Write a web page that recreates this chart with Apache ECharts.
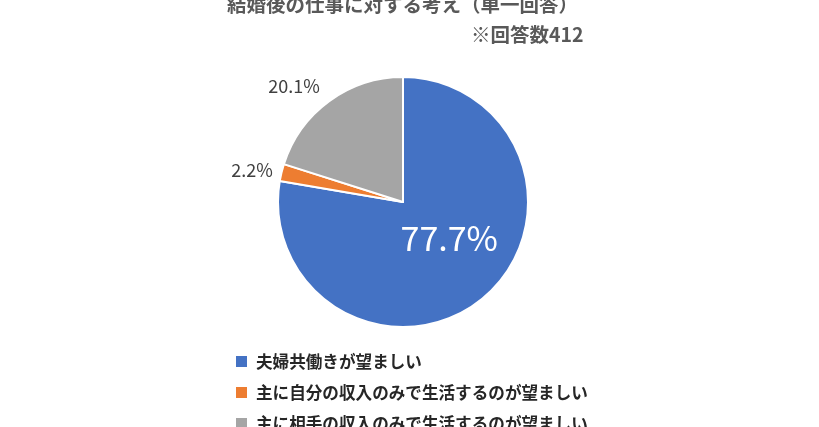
<!DOCTYPE html>
<html><head><meta charset="utf-8">
<script src="https://cdn.jsdelivr.net/npm/echarts@6/dist/echarts.min.js"></script>
<style>html,body{margin:0;padding:0;background:#fff}#c{width:819px;height:427px}</style>
</head><body><div id="c"></div>
<script>
const titleText = '結婚後の仕事に対する考え（単一回答）';
const subText = '※回答数412';
const categories = ['夫婦共働きが望ましい', '主に自分の収入のみで生活するのが望ましい', '主に相手の収入のみで生活するのが望ましい'];
const values = [77.7, 2.2, 20.1];
const colors = ['#4472C4', '#ED7D31', '#A5A5A5'];

const font = '"Noto Sans CJK JP", "Noto Sans", sans-serif';
const labelCfg = [
  {position: 'inside', color: '#ffffff', fontSize: 34, offset: [4, -14]},
  {position: 'outside', color: '#404040', fontSize: 18},
  {position: 'outside', color: '#404040', fontSize: 18, offset: [-4, -8]}
];
const data = categories.map((name, i) => ({
  name, value: values[i],
  itemStyle: {color: colors[i]},
  label: labelCfg[i]
}));

const legends = categories.map((name, i) => ({
  orient: 'vertical', left: 236, top: 351 + i * 31, padding: 0,
  itemWidth: 11, itemHeight: 11,
  icon: 'rect',
  itemStyle: {borderWidth: 0, borderColor: 'transparent'},
  textStyle: {fontFamily: font, fontSize: 16.6, fontWeight: 'bold', color: '#262626', lineHeight: 21, padding: [0, 0, 0, 4]},
  data: [name]
}));

const chart = echarts.init(document.getElementById('c'));
chart.setOption({
  animation: false,
  title: [
    {text: titleText, left: 222, top: -10, textStyle: {fontFamily: font, fontSize: 19.5, fontWeight: 'bold', color: '#595959'}},
    {text: subText, left: 466, top: 20, textStyle: {fontFamily: font, fontSize: 19.5, fontWeight: 'bold', color: '#595959'}}
  ],
  legend: legends,
  series: [{
    type: 'pie',
    center: [403, 202],
    radius: 125,
    startAngle: 90,
    clockwise: true,
    avoidLabelOverlap: false,
    itemStyle: {borderColor: '#ffffff', borderWidth: 2},
    label: {show: true, fontFamily: font, formatter: p => p.value.toFixed(1) + '%', distanceToLabelLine: 0},
    labelLine: {show: false, length: 9, length2: 0},
    emphasis: {disabled: true},
    data
  }]
});
</script></body></html>
